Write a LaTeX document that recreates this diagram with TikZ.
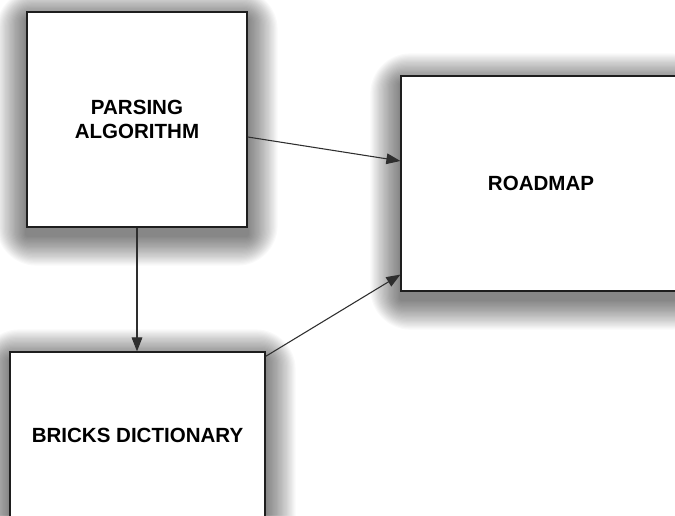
\documentclass[tikz,border=0pt]{standalone}
\usepackage{fontspec}
\setmainfont{Liberation Sans}
\usetikzlibrary{arrows.meta,backgrounds}
\definecolor{edge}{HTML}{1e1e1e}
\definecolor{link}{HTML}{2e2e2e}

\tikzset{
    block/.style={draw=edge, line width=0.9pt, fill=white, align=center, inner sep=0pt,
        font=\bfseries\fontsize{15.4}{18}\selectfont},
    link/.style={draw=link, line width=0.8pt, -{Triangle[length=10.5pt,width=8pt]}}
}

\begin{document}
\begin{tikzpicture}[x=0.75pt, y=-0.75pt]
    \path[use as bounding box, clip] (0,0) rectangle (675,515);

    % Draw the boxes
    \node[block, minimum width=165pt, minimum height=161.25pt] (parsing) at (137,119.5) {PARSING\\ALGORITHM};
    \node[block, minimum width=210pt, minimum height=161.25pt] (roadmap) at (541,183.5) {ROADMAP};
    \node[block, minimum width=191.25pt, minimum height=124.5pt] (bricks) at (137.5,435) {BRICKS DICTIONARY};

    % Soft shadows under the boxes
    \begin{pgfonlayer}{background}
        \clip (0,0) rectangle (675,515);
        \fill[white] (0,0) rectangle (675,515);
        \foreach \nd in {parsing, roadmap, bricks}
            \foreach \rr in {1.25,2.5,...,30}
                \fill[black, opacity=0.024, rounded corners=\rr pt]
                    ([shift={(-\rr,-\rr+8)}]\nd.north west) rectangle ([shift={(\rr,\rr+8)}]\nd.south east);
    \end{pgfonlayer}

    % Arrows
    \draw[link] ([yshift=-13.1pt]parsing.east) -- ([yshift=16.9pt]roadmap.west);
    \draw[link] ([yshift=-3.75pt]bricks.north east) -- ([yshift=12.75pt]roadmap.south west);
    \draw[link] (parsing.south) -- (parsing.south |- bricks.north);
\end{tikzpicture}
\end{document}
